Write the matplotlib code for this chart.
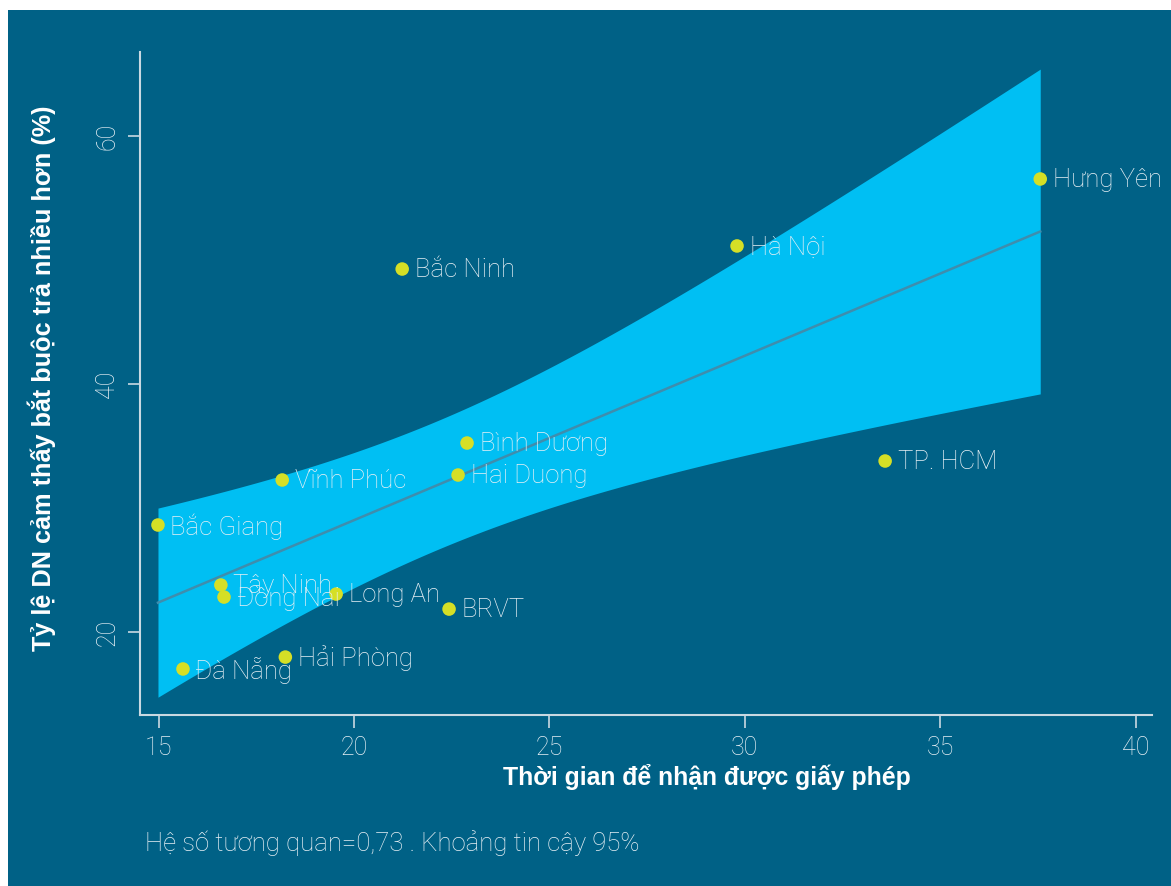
import numpy as np
import matplotlib
matplotlib.use("Agg")
import matplotlib.pyplot as plt
from matplotlib.patches import Rectangle

# ---- data ----
provinces = ["Bắc Giang", "Vĩnh Phúc", "Bắc Ninh", "Hà Nội", "Hưng Yên",
             "Bình Dương", "Hai Duong", "TP. HCM", "Tây Ninh", "Đồng Nai",
             "Long An", "BRVT", "Hải Phòng", "Đà Nẵng"]
license_time = [14.98, 18.16, 21.23, 29.80, 37.56,
                22.89, 22.66, 33.59, 16.59, 16.67,
                19.54, 22.43, 18.24, 15.62]
pay_more_pct = [28.63, 32.26, 49.27, 51.13, 56.53,
                35.24, 32.66, 33.79, 23.79, 22.82,
                23.06, 21.85, 17.98, 17.02]
x_ticks = [15, 20, 25, 30, 35, 40]
y_ticks = [20, 40, 60]
x_label = "Thời gian để nhận được giấy phép"
y_label = "Tỷ lệ DN cảm thấy bắt buộc trả nhiều hơn (%)"
footnote = "Hệ số tương quan=0,73 . Khoảng tin cậy 95%"
T_CRIT_95_DF12 = 2.1788

BG = "#006186"
BAND = "#00BFF3"
LINE = "#3F8DAD"
DOT = "#D5DF26"
TXT = "#E8F0F5"
SPINE = "#C9D9E2"

plt.rcParams['font.family'] = ['Roboto', 'DejaVu Sans']

fig = plt.figure(figsize=(11.71, 8.86), dpi=100, facecolor="white")
bg = Rectangle((8 / 1171, 0), 1 - 8 / 1171, 1 - 10 / 886,
               transform=fig.transFigure, facecolor=BG,
               edgecolor="none", zorder=-10)
fig.patches.append(bg)

ax = fig.add_axes([140 / 1171, 1 - 715 / 886, (1152 - 140) / 1171, (715 - 52) / 886])
ax.set_facecolor("none")
ax.set_zorder(5)

x = np.array(license_time)
y = np.array(pay_more_pct)
n = len(x)
xm, ym = x.mean(), y.mean()
sxx = ((x - xm) ** 2).sum()
slope = ((x - xm) * (y - ym)).sum() / sxx
intercept = ym - slope * xm
resid = y - (intercept + slope * x)
s = np.sqrt((resid ** 2).sum() / (n - 2))
xs = np.linspace(x.min(), x.max(), 200)
fit = intercept + slope * xs
half = T_CRIT_95_DF12 * s * np.sqrt(1 / n + (xs - xm) ** 2 / sxx)

ax.fill_between(xs, fit - half, fit + half, color=BAND, linewidth=0, zorder=1)
ax.plot(xs, fit, color=LINE, linewidth=1.8, zorder=2)
ax.scatter(x, y, s=95, color=DOT, edgecolors="none", zorder=3)
for name, xi, yi in zip(provinces, x, y):
    ax.annotate(name, (xi, yi), xytext=(9, -1), textcoords="offset points",
                ha="left", va="center", fontsize=18.5, color=TXT,
                fontweight="light", zorder=4)

ax.set_xlim(14.52, 40.42)
ax.set_ylim(13.31, 66.77)
ax.set_xticks(x_ticks)
ax.set_yticks(y_ticks)
ax.set_xticklabels([str(v) for v in x_ticks])
ax.set_yticklabels([str(v) for v in y_ticks], rotation=90, va="center")
for sp in ["top", "right"]:
    ax.spines[sp].set_visible(False)
for sp in ["left", "bottom"]:
    ax.spines[sp].set_color(SPINE)
    ax.spines[sp].set_linewidth(1.5)
ax.tick_params(axis="both", direction="out", length=9, width=1.2,
               color=SPINE, labelcolor=TXT, labelsize=18, pad=6)
for lab in ax.get_xticklabels() + ax.get_yticklabels():
    lab.set_fontweight("light")

ax.set_xlabel(x_label, fontsize=17.8, fontweight="bold", color="white",
              family=["Liberation Sans", "DejaVu Sans"], va="center", ha="center")
ax.xaxis.set_label_coords((707 - 140) / 1012, (715 - 777) / 663)
ax.set_ylabel(y_label, fontsize=18.2, fontweight="bold", color="white",
              family=["Liberation Sans", "DejaVu Sans"], va="center", ha="center")
ax.yaxis.set_label_coords((42 - 140) / 1012, (715 - 378) / 663)

fig.text(145 / 1171, 1 - 843 / 886, footnote, fontsize=18.5, color=TXT,
         fontweight="light", ha="left", va="center")

fig.savefig("out.png", dpi=100, facecolor=fig.get_facecolor())
